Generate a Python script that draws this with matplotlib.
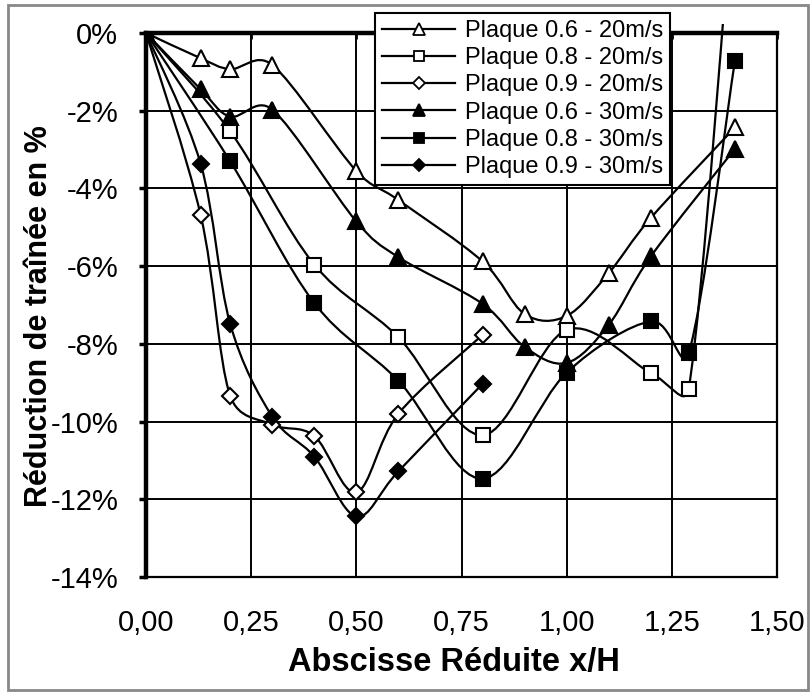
import numpy as np
import matplotlib
matplotlib.use("Agg")
import matplotlib.pyplot as plt
from matplotlib.path import Path
from matplotlib.patches import PathPatch, Rectangle
from matplotlib.lines import Line2D
from matplotlib.ticker import FuncFormatter

# --- Data (drag reduction in %) ---
x_06_20 = [0, 0.13, 0.2, 0.3, 0.5, 0.6, 0.8, 0.9, 1.0, 1.1, 1.2, 1.4]
y_06_20 = [0, -0.65, -0.93, -0.82, -3.55, -4.3, -5.88, -7.23, -7.28, -6.18, -4.76, -2.43]

x_08_20 = [0, 0.2, 0.4, 0.6, 0.8, 1.0, 1.2, 1.29, 1.4]
y_08_20 = [0, -2.53, -5.96, -7.83, -10.35, -7.64, -8.75, -9.16, 4.1]

x_09_20 = [0, 0.13, 0.2, 0.3, 0.4, 0.5, 0.6, 0.8]
y_09_20 = [0, -4.69, -9.33, -10.08, -10.37, -11.82, -9.8, -7.77]

x_06_30 = [0, 0.13, 0.2, 0.3, 0.5, 0.6, 0.8, 0.9, 1.0, 1.1, 1.2, 1.4]
y_06_30 = [0, -1.45, -2.15, -1.97, -4.85, -5.77, -6.97, -8.08, -8.49, -7.51, -5.75, -2.98]

x_08_30 = [0, 0.2, 0.4, 0.6, 0.8, 1.0, 1.2, 1.29, 1.4]
y_08_30 = [0, -3.3, -6.95, -8.95, -11.47, -8.74, -7.42, -8.24, -0.71]

x_09_30 = [0, 0.13, 0.2, 0.3, 0.4, 0.5, 0.6, 0.8]
y_09_30 = [0, -3.37, -7.48, -9.87, -10.9, -12.44, -11.28, -9.03]

LABELS = ["Plaque 0.6 - 20m/s", "Plaque 0.8 - 20m/s", "Plaque 0.9 - 20m/s",
          "Plaque 0.6 - 30m/s", "Plaque 0.8 - 30m/s", "Plaque 0.9 - 30m/s"]

X_TICKS = [0, 0.25, 0.5, 0.75, 1.0, 1.25, 1.5]
Y_TICKS = [-14, -12, -10, -8, -6, -4, -2, 0]

plt.rcParams["font.family"] = ["Liberation Sans", "DejaVu Sans"]

STYLES = [
    dict(marker="^", mfc="white", ms=12),
    dict(marker="s", mfc="white", ms=10),
    dict(marker="D", mfc="white", ms=8.5),
    dict(marker="^", mfc="black", ms=12),
    dict(marker="s", mfc="black", ms=10),
    dict(marker="D", mfc="black", ms=8.5),
]


def smooth_path(ax, xs, ys):
    # Excel-like smoothed line, built in screen space then mapped back to data
    pts = ax.transData.transform(np.column_stack([xs, ys]).astype(float))
    n = len(pts)
    verts = [pts[0]]
    codes = [Path.MOVETO]
    for i in range(n - 1):
        p0 = pts[i - 1] if i > 0 else pts[i]
        p1 = pts[i]
        p2 = pts[i + 1]
        p3 = pts[i + 2] if i + 2 < n else pts[i + 1]
        seg = np.hypot(*(p2 - p1))
        h1 = (p2 - p0) / 6
        h2 = (p3 - p1) / 6
        # keep handles within half of the segment
        for h in (h1, h2):
            ln = np.hypot(*h)
            if ln > seg / 2:
                h *= (seg / 2) / ln
        verts += [p1 + h1, p2 - h2, p2]
        codes += [Path.CURVE4] * 3
    verts = ax.transData.inverted().transform(np.array(verts))
    return Path(verts, codes)


def main():
    fig = plt.figure(figsize=(8.11, 6.92), dpi=100)
    ax = fig.add_axes([146 / 811, 1 - 577 / 692, 631 / 811, 544 / 692])

    ax.set_xlim(0, 1.5)
    ax.set_ylim(-14, 0)

    # line clip slightly taller than the axes (like Excel's plot area)
    clip = Rectangle((0, 0), 1, 1.016, transform=ax.transAxes)

    series = [(x_06_20, y_06_20), (x_08_20, y_08_20), (x_09_20, y_09_20),
              (x_06_30, y_06_30), (x_08_30, y_08_30), (x_09_30, y_09_30)]
    handles = []
    for (xs, ys), st, lab in zip(series, STYLES, LABELS):
        patch = PathPatch(smooth_path(ax, xs, ys), fill=False, lw=1.6,
                          ec="black", zorder=3)
        ax.add_patch(patch)
        patch.set_clip_path(clip)
        ax.plot(xs, ys, ls="none", marker=st["marker"], ms=st["ms"],
                mfc=st["mfc"], mec="black", mew=1.5, zorder=4)
        handles.append(Line2D([], [], color="black", lw=1.6,
                              marker=st["marker"], ms=st["ms"] * 0.75,
                              mfc=st["mfc"], mec="black", mew=1.3))
    ax.set_xlim(0, 1.5)
    ax.set_ylim(-14, 0)

    ax.set_xticks(X_TICKS)
    ax.set_yticks(Y_TICKS)
    ax.xaxis.set_major_formatter(FuncFormatter(lambda v, _: f"{v:.2f}".replace(".", ",")))
    ax.yaxis.set_major_formatter(FuncFormatter(lambda v, _: f"{v:.0f}%"))
    ax.grid(True, color="black", lw=1.4)
    ax.set_axisbelow(True)

    ax.tick_params(axis="x", top=True, bottom=False, direction="in",
                   length=4, width=2, labelsize=21, pad=23)
    ax.tick_params(axis="y", left=True, direction="out",
                   length=5, width=2.5, labelsize=21, pad=15)

    for side in ["top", "left"]:
        ax.spines[side].set_linewidth(3.2)
    for side in ["bottom", "right"]:
        ax.spines[side].set_linewidth(1.6)
    for sp in ax.spines.values():
        sp.set_zorder(5)

    fig.text(454 / 811, 1 - 663 / 692, "Abscisse Réduite x/H",
             ha="center", va="center", fontsize=23.5, fontweight="bold")
    fig.text(39 / 811, 1 - 316 / 692, "Réduction de traînée en %",
             ha="center", va="center", rotation=90, fontsize=22,
             fontweight="bold")

    leg = fig.legend(handles, LABELS, loc="upper left",
                     bbox_to_anchor=(375 / 811, 1 - 13 / 692),
                     fontsize=17, handlelength=3.1, handletextpad=0.4,
                     labelspacing=0.22, borderpad=0.3, borderaxespad=0,
                     fancybox=False, framealpha=1, edgecolor="black")
    leg.get_frame().set_linewidth(1.5)
    leg.set_zorder(10)

    # grey outer frame around the whole chart
    fig.patches.append(Rectangle((8 / 811, 2 / 692), 800 / 811, 685 / 692,
                                 transform=fig.transFigure, fill=False,
                                 ec="#888888", lw=2))

    fig.savefig("out.png", dpi=100)
    plt.close(fig)


if __name__ == "__main__":
    main()
